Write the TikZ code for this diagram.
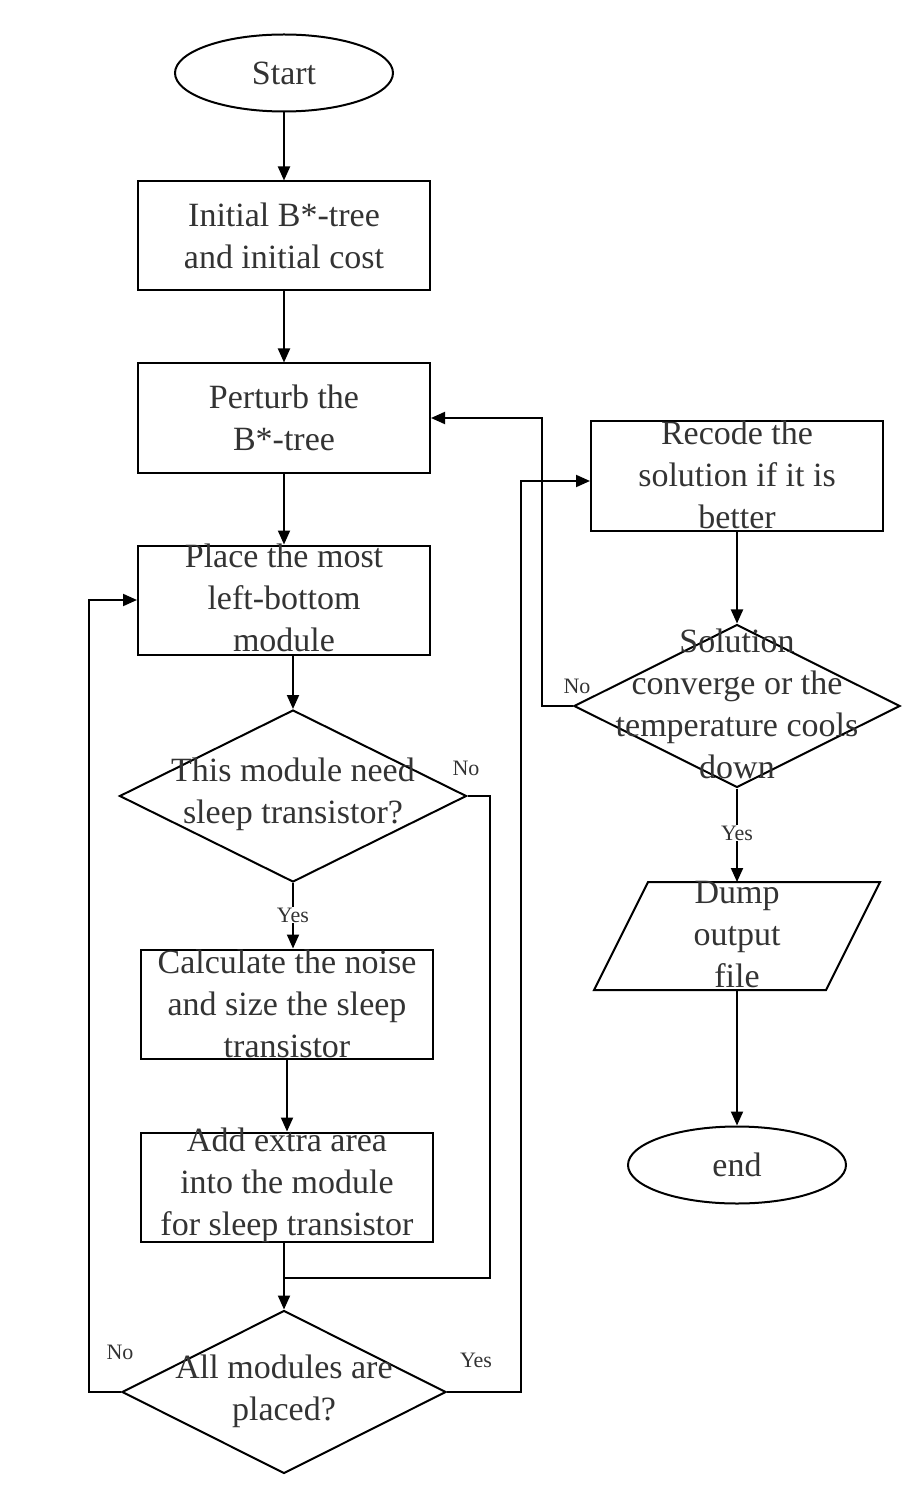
\documentclass[tikz,border=0pt]{standalone}
\usepackage{fontspec}
\setmainfont{Liberation Serif}
\usetikzlibrary{shapes.geometric,arrows.meta}
\begin{document}
\begin{tikzpicture}[x=0.5pt,y=-0.5pt,
  line width=1pt,
  every node/.style={font=\fontsize{17}{21}\selectfont, text=black!80},
  term/.style={draw=black, ellipse, minimum width=109pt, minimum height=38.5pt, inner sep=0pt},
  box/.style={draw=black, rectangle, minimum width=146pt, minimum height=54.5pt, inner sep=0pt},
  dec/.style={draw=black, diamond, inner sep=0pt},
  txt/.style={align=center, inner sep=0pt},
  tag/.style={font=\fontsize{11}{13}\selectfont, inner sep=0pt},
  arr/.style={-{Triangle[length=7pt,width=6pt]}},
]
\useasboundingbox (0,0) rectangle (909,1486);

% left column
\node[term] (start) at (284,73) {Start};
\node[box] (b1) at (284,236) {};
\node[txt] (t1) at (284,236) {Initial B*-tree\\and initial cost};
\node[box] (b2) at (284,418) {};
\node[txt] (t2) at (284,418) {Perturb the\\B*-tree};
\node[box] (b3) at (284,600) {};
\node[txt] (t3) at (284,598) {Place the most\\left-bottom\\module};
\node[dec, minimum width=173.5pt, minimum height=86pt] (d1) at (293,796) {};
\node[txt] (td1) at (293,794) {This module need\\sleep transistor?};
\node[box] (b4) at (287,1004) {};
\node[txt] (t4) at (287,1004) {Calculate the noise\\and size the sleep\\transistor};
\node[box] (b5) at (287,1187) {};
\node[txt] (t5) at (287,1185) {Add extra area\\into the module\\for sleep transistor};
\node[dec, minimum width=162pt, minimum height=81.5pt] (d2) at (284,1392) {};
\node[txt] (td2) at (284,1391) {All modules are\\placed?};

% right column
\node[box] (b6) at (737,476) {};
\node[txt] (t6) at (737,475) {Recode the\\solution if it is\\better};
\node[dec, minimum width=163pt, minimum height=81.5pt] (d3) at (737,706) {};
\node[txt] (td3) at (737,704) {Solution\\converge or the\\temperature cools\\down};
\coordinate (dumpT) at (737,882);
\coordinate (dumpB) at (737,990);
\draw (648,882) -- (880,882) -- (826,990) -- (594,990) -- cycle;
\node[txt] (tdump) at (737,935) {Dump\\output\\file};
\node[term] (end) at (737,1165) {end};

% branch labels
\node[tag] (no1) at (466,768) {No};
\node[tag] (yes1) at (293,915) {Yes};
\node[tag] (no2) at (120,1352) {No};
\node[tag] (yes2) at (476,1360) {Yes};
\node[tag] (no3) at (577,686) {No};
\node[tag] (yes3) at (737,833) {Yes};

% connectors
\coordinate (join) at (284,1278);
\draw[arr] (start) -- (b1);
\draw[arr] (b1) -- (b2);
\draw[arr] (b2) -- (b3);
\draw[arr] (b3.south -| d1.north) -- (d1.north);
\draw (d1.south) -- (yes1.north);
\draw[arr] (yes1.south) -- (yes1.south |- b4.north);
\draw[arr] (b4) -- (b5);
\draw[arr] (b5.south -| d2.north) -- (d2.north);
\draw (d1.east) -- ++(22,0) |- (join);
\draw[arr] (d2.west) -- ++(-32,0) |- (b3.west);
\draw[arr] (d2.east) -- ++(74,0) |- ([yshift=-2.5pt]b6.west);
\draw[arr] (b6) -- (d3);
\draw[arr] (d3.west) -- ++(-31,0) |- (b2.east);
\draw (d3.south) -- (yes3.north);
\draw[arr] (yes3.south) -- (dumpT);
\draw[arr] (dumpB) -- (end);
\end{tikzpicture}
\end{document}
